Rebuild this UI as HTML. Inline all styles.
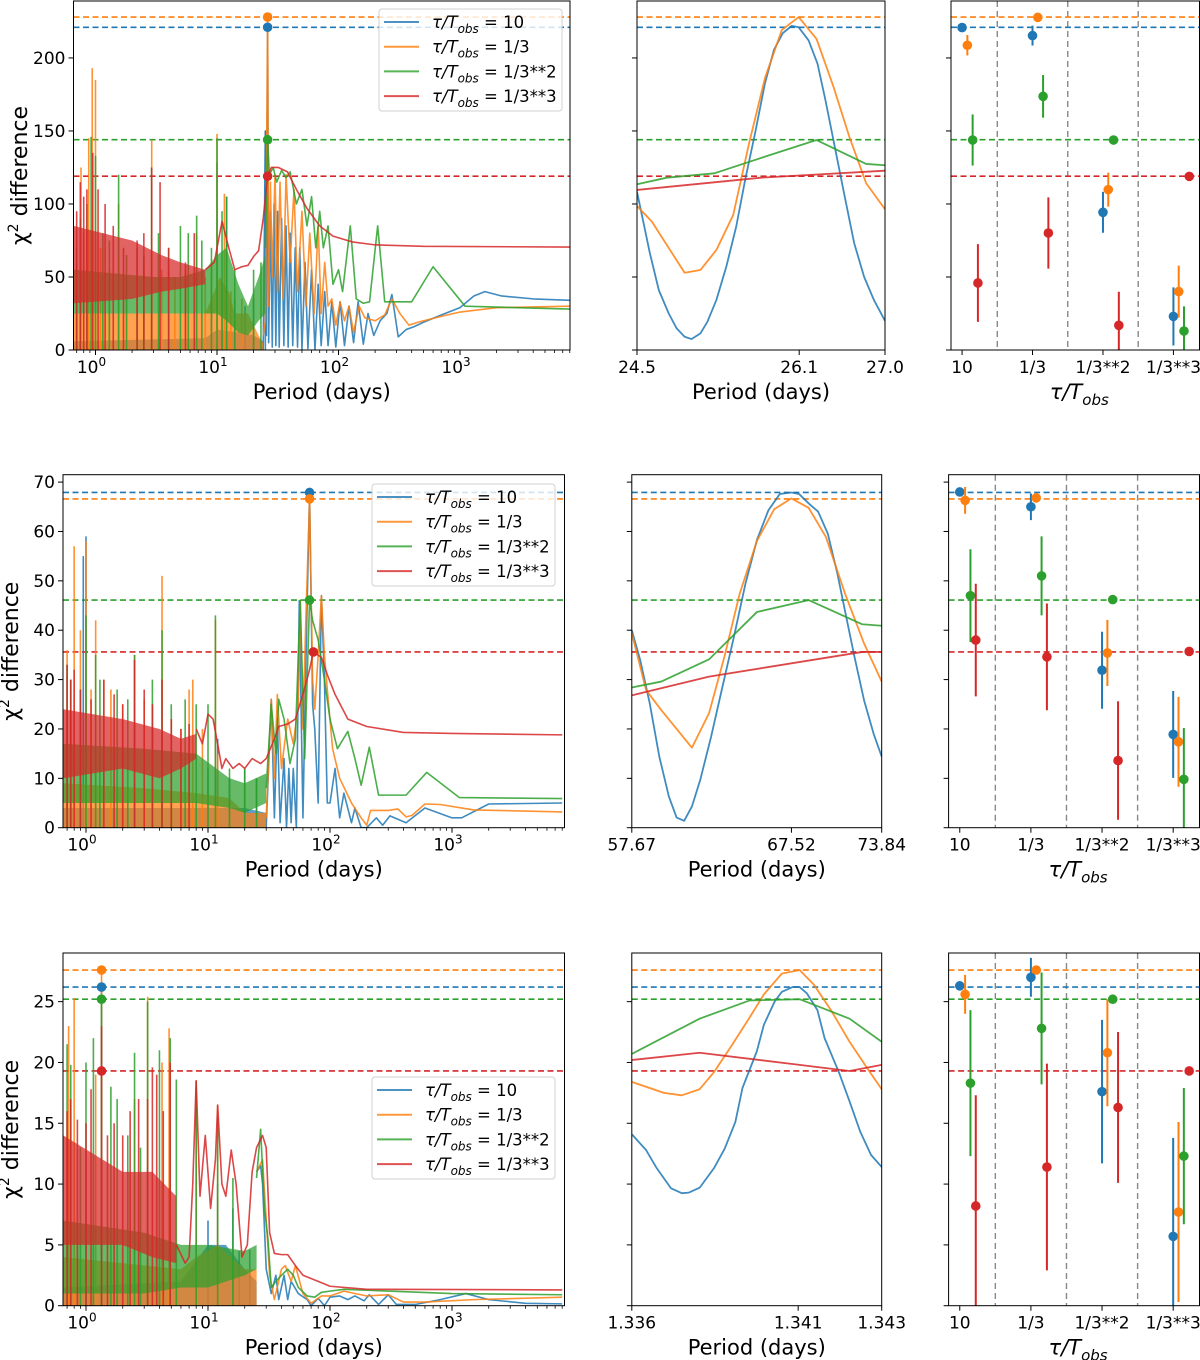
<!DOCTYPE html>
<html><head><meta charset="utf-8"><style>
html,body{margin:0;padding:0;background:#fff;}
svg{display:block;font-family:"DejaVu Sans","Liberation Sans",sans-serif;}
</style></head><body>
<svg id="fig" width="1200" height="1360" viewBox="0 0 1200 1360" xmlns="http://www.w3.org/2000/svg"></svg>
<script>
// ===================== DATA =====================
const seriesNames = ['10', '1/3', '1/3**2', '1/3**3'];
const categories = ['10', '1/3', '1/3**2', '1/3**3'];
const colors = ['#1f77b4', '#ff7f0e', '#2ca02c', '#d62728'];

// ---- Row 1 ----
const r1Peaks = [221, 228, 144, 119];
const r1PeakPeriod = [26.1, 26.1, 26.1, 26.1];
const r1BlueBand = [[0.66,0,6],[8,0,8],[10,0,14],[15,0,12],[20,0,10],[24,0,6]];
const r1OrangeBand = [[0.66,0,25],[8,0,25],[9.5,0,40],[10.5,0,50],[12.5,0,40],[14,0,25],[18,0,25],[22,0,10],[24,0,5]];
const r1GreenBand = [[0.66,25,55],[3,25,50],[5,25,50],[8,25,55],[10,25,65],[12,20,70],[15,12,45],[18,10,30],[22,20,50],[25,25,65]];
const r1RedBand = [[0.66,32,85],[2,35,75],[3.5,40,65],[5,42,60],[8,45,55]];
const r1BlueSpikes = [[10,128],[12,105],[25,150],[9,40],[11,45],[14,35],[17,30],[20,35]];
const r1OrangeSpikes = [[0.76,125],[0.88,145],[0.94,193],[1.0,185],[1.55,100],[2.9,144],[6.8,80],[10,148],[11.5,107],[0.7,60],[0.8,80],[1.1,70],[1.3,55],[1.8,50],[2.2,45],[2.5,60],[3.5,55],[4.5,50],[5.5,55],[8,50],[9,60],[13,40],[16,35]];
const r1GreenSpikes = [[0.92,146],[1.0,133],[1.55,120],[2.9,125],[6.8,92],[10,145],[12,105],[0.7,70],[0.75,90],[0.85,100],[1.15,80],[1.3,75],[1.8,65],[2.2,70],[2.5,65],[3.3,80],[4,70],[5,85],[5.8,80],[7.5,75],[9,70],[11,95],[14,55],[20,55],[23,60]];
const r1RedSpikes = [[0.8,105],[0.95,135],[1.2,100],[2.9,125],[3.4,115],[0.7,95],[0.75,115],[0.85,110],[1.05,110],[1.4,85],[1.7,70],[2.2,75],[2.5,80],[4.0,70],[5.5,60],[6.5,80]];
const r1BlueLine = [[24,0],[25,150],[25.5,10],[26.1,221],[26.6,5],[27.5,95],[28.5,2],[29.5,100],[30.5,3],[31.5,95],[32.5,2],[34,90],[35.5,3],[37,85],[38.5,2],[40,80],[42,3],[44,70],[46,2],[48,70],[50,0],[53,60],[56,1],[60,55],[64,0],[68,45],[72,3],[77,40],[82,3],[88,33],[95,2],[103,33],[112,3],[122,30],[133,5],[145,33],[160,4],[175,25],[195,10],[220,20],[250,25],[275,38],[310,9],[360,14],[420,16],[500,19],[700,24],[1000,29],[1300,37],[1600,40],[2200,37],[4000,35],[8000,34]];
const r1OrangeLine = [[24,10],[25,20],[26.1,228],[26.6,30],[27.5,115],[28.5,50],[30,120],[31.5,40],[33,115],[35,35],[37,120],[40,60],[43,110],[46,40],[50,95],[54,30],[58,80],[63,25],[68,85],[72,25],[77,60],[82,30],[88,35],[95,17],[103,33],[112,20],[122,30],[133,12],[148,30],[165,22],[200,20],[240,24],[275,35],[320,25],[380,17],[450,19],[700,23],[1000,26],[2000,29],[8000,30]];
const r1GreenLine = [[25,70],[26.1,144],[27,120],[29,125],[31,115],[34,123],[37,118],[40,122],[45,100],[50,110],[55,85],[60,105],[65,70],[70,95],[75,70],[82,85],[90,45],[100,55],[108,40],[125,85],[140,35],[160,32],[180,33],[210,85],[240,33],[300,33],[400,33],[600,57],[1100,30],[8000,28]];
const r1RedLine = [[8,55],[9.5,60],[11,88],[12.5,70],[14,55],[16,57],[18,58],[20,64],[22,68],[24,90],[26.1,119],[28,125],[32,125],[38,122],[45,110],[55,97],[70,85],[90,78],[130,74],[200,72],[500,71],[8000,70.5]];
const r1ZoomBlue = [[24.5,108.4],[24.63,66.2],[24.72,41],[24.82,25],[24.9,14.8],[24.98,9.1],[25.05,7.5],[25.14,11.4],[25.21,19.4],[25.3,34.2],[25.4,57],[25.5,84.5],[25.59,116.4],[25.69,148.4],[25.79,182.6],[25.88,205.5],[25.97,217],[26.06,222],[26.13,221],[26.23,212],[26.32,196],[26.4,171],[26.5,137],[26.6,103],[26.69,73],[26.79,50],[26.89,34],[27.0,20]];
const r1ZoomOrange = [[24.5,98.6],[24.65,87.9],[24.98,52.9],[25.14,54.8],[25.3,68.5],[25.47,92.5],[25.63,141.6],[25.79,186.2],[25.96,219.2],[26.13,228],[26.31,213],[26.48,180.4],[26.64,146.1],[26.81,114.2],[27.0,96.4]];
const r1ZoomGreen = [[24.5,113.5],[24.8,118],[25.28,121],[25.79,132.4],[26.31,143.8],[26.81,127.4],[27.0,126.5]];
const r1ZoomRed = [[24.5,109.6],[25.75,118],[27.0,122.8]];
const r1Vals = [[220.8,215.3,94.3,23],[208.7,227.8,109.8,40],[143.8,173.7,143.8,13],[45.9,80.1,16.9,118.9]];
const r1Errs = [[0,6.8,14,19.9],[7,0,11.6,17.8],[17.5,14.6,0,16.9],[26.6,24.4,23,0]];

// ---- Row 2 ----
const r2Peaks = [67.9, 66.6, 46.1, 35.6];
const r2PeakPeriod = [68, 68, 68, 73];
const r2BlueBand = [[0.65,0,4],[20,0,4],[30,0,3]];
const r2OrangeBand = [[0.65,0,9],[3,0,8],[8,0,7],[15,0,6],[20,0,3],[30,0,3]];
const r2GreenBand = [[0.65,5,17],[3,5,16],[8,5,15],[15,4,10],[20,3,9],[30,5,11]];
const r2RedBand = [[0.65,10,24],[2,12,22],[4,10,20],[6,12,18],[8,14,19]];
const r2BlueSpikes = [[0.95,55],[1.0,59],[10,12],[12,18],[15,10],[20,12],[25,10]];
const r2OrangeSpikes = [[0.8,57],[0.9,40],[1.0,58],[1.2,42],[2.5,35],[4.2,51],[7.5,30],[11.5,42],[0.7,36],[0.75,30],[1.1,28],[1.4,30],[1.6,28],[2,25],[3,26],[3.5,25],[5,22],[6,20],[7,28],[9,20],[12,15]];
const r2GreenSpikes = [[0.7,33],[1.0,43],[1.2,35],[2.5,35],[4.2,40],[11.5,43],[0.75,30],[0.9,28],[1.3,30],[1.8,28],[2.2,26],[3.5,30],[5,25],[6.5,26],[8,25],[10,25],[15,12],[20,12],[25,10]];
const r2RedSpikes = [[0.7,33],[0.8,32],[2.5,34],[4.2,30],[0.75,30],[0.9,28],[1.1,26],[1.4,30],[1.7,27],[2,25],[3,28],[3.5,25],[5,22],[6,20],[7,21]];
const r2BlueLine = [[30,0],[33,26],[35,2],[37,22],[39,1],[42,14],[44,0],[46,12],[48,1],[50,12],[53,0],[56,46],[60,2],[63,30],[68,67.9],[72,25],[75,20],[80,5],[85,47],[90,30],[95,5],[100,5],[110,12],[120,2],[130,7],[150,1],[160,4],[180,0],[200,0],[240,2],[270,0.5],[310,2.4],[420,1],[600,4],[1000,2],[1200,2],[2000,4.8],[8000,5]];
const r2OrangeLine = [[30,2],[33,26],[35,10],[37,27],[40,12],[45,22],[50,17],[55,25],[57,46],[60,20],[63,40],[68,66.6],[72,30],[75,24],[80,35],[85,47],[90,35],[95,28],[105,16],[120,10],[150,5],[180,2],[200,0.5],[215,3.5],[300,3.5],[360,3.8],[420,2.2],[470,2.5],[600,4.8],[800,4.7],[1500,3.6],[8000,3.2]];
const r2GreenLine = [[30,8],[33,25],[36,15],[38,26],[42,22],[47,13],[52,18],[57,46],[62,14],[68,46],[72,42],[80,38],[90,30],[100,22],[115,16],[140,19.5],[160,14],[180,8.6],[210,16.3],[250,6.6],[420,6.6],[620,11.2],[1150,6.1],[8000,5.9]];
const r2RedLine = [[8,20],[9,17],[10,23],[11,22],[12,17],[13,12],[14,14],[16,12],[18,13],[20,12],[23,14],[27,13],[30,14],[35,18],[38,20.5],[45,21],[52,22],[60,27],[68,32],[73,35.6],[85,34.5],[95,31],[110,27],[140,22],[200,20.5],[400,19.3],[1000,19.1],[8000,18.8]];
const r2ZoomBlue = [[57.67,40],[58.21,34],[58.83,25.2],[59.45,14.4],[60.07,6.3],[60.57,2.05],[61.06,1.4],[61.56,4.3],[62.1,9.7],[62.8,18.4],[63.54,28.6],[64.28,38.7],[65.03,49.5],[65.77,58.3],[66.51,64.3],[67.25,67.6],[68.0,67.9],[68.49,67.6],[69.11,65.7],[69.73,64],[70.35,59.6],[70.97,51.5],[71.59,42],[72.08,34.6],[72.7,25.8],[73.32,19],[73.84,14.4]];
const r2ZoomOrange = [[57.67,39.4],[58.59,27.9],[59.58,23.8],[61.56,16.2],[62.67,23.2],[63.66,34.6],[64.65,47.4],[65.77,58.1],[66.88,64.5],[68.0,66.7],[69.11,64.8],[70.23,58.9],[71.47,47.4],[72.7,37.3],[73.84,29.6]];
const r2ZoomGreen = [[57.67,28.4],[59.58,29.6],[62.67,34.1],[65.77,43.7],[69.11,46.1],[72.58,41.2],[73.84,40.9]];
const r2ZoomRed = [[57.67,26.8],[62.67,30.6],[72.58,35.6],[73.84,35.6]];
const r2Vals = [[68.0,65.0,31.9,18.9],[66.3,66.8,35.4,17.4],[47.0,51.0,46.2,9.8],[38.0,34.6,13.6,35.7]];
const r2Errs = [[0,2.7,7.8,8.8],[2.7,0,6.7,9.1],[9.4,8,0,10.4],[11.4,10.8,12,0]];

// ---- Row 3 ----
const r3Peaks = [26.2, 27.6, 25.2, 19.3];
const r3PeakPeriod = [1.341, 1.341, 1.341, 1.341];
const r3BlueBand = [[0.65,0,1.5],[6,0,2],[10,0,5],[14,0,5],[20,0,3],[25,0,2]];
const r3OrangeBand = [[0.65,0,4],[6,0,3],[8,0,4],[12,0,5],[20,0,3],[25,0,3]];
const r3GreenBand = [[0.65,1,7],[3,1,6],[6,1.5,5],[10,1.5,5],[20,2.5,4.5],[25,3,5]];
const r3RedBand = [[0.65,5,14],[2,5,11],[3.5,4,11],[5.5,3.5,9]];
const r3BlueSpikes = [[10,7],[12,10],[1.341,26.2],[16,8],[18,4.5],[22,4.6]];
const r3OrangeSpikes = [[0.72,23],[0.8,25.3],[1.2,19],[2.5,17],[3.2,25.4],[4.2,20],[4.8,22.8],[8,18],[12,16.5],[1.341,27.6]];
const r3GreenSpikes = [[0.7,21.5],[0.75,19.8],[1.15,22],[1.6,18],[2.5,20.8],[3.2,25],[4.0,21],[4.9,22],[5.5,18.6],[8,18.5],[12,15.5],[16,10.5],[1.341,25.2],[0.9,13],[1.0,20],[1.8,17],[2.2,14],[2.8,13]];
const r3RedSpikes = [[0.75,17],[0.85,15.3],[1.1,17.8],[3.2,17],[3.8,19],[4.9,20],[1.341,23],[0.7,16],[1.0,15],[1.5,14],[1.7,15],[2.0,14],[2.3,16],[2.7,17],[3.5,19.6],[4.3,16]];
const r3BlueLine = [[25,11],[27,11.5],[28,10],[30,3],[33,1],[36,2.5],[38,0.5],[42,2.5],[45,0.5],[48,2],[55,1],[65,0.5],[70,0],[80,0.6],[90,0],[100,0.7],[120,0.8],[140,0.5],[160,0.8],[190,0.4],[210,0.9],[250,0.1],[300,0.9],[350,0.1],[500,0.1],[800,0.5],[1300,1.0],[2000,0.5],[4000,0.2],[8000,0.15]];
const r3OrangeLine = [[25,11],[28,12],[32,2.5],[35,0.5],[40,3],[43,3.3],[48,2],[52,3.3],[60,1],[70,0.2],[85,0.8],[100,0.8],[130,1.2],[200,0.8],[300,0.9],[400,0.3],[600,0.3],[1500,0.5],[8000,0.7]];
const r3GreenLine = [[25,10.5],[27,14.5],[29,8],[31,5.5],[33,1.5],[36,2],[40,2.5],[45,3],[50,2.5],[55,1.5],[65,0.8],[75,0.7],[85,1.1],[100,1.2],[130,1.35],[300,1.2],[1000,1.0],[8000,0.9]];
const r3RedLine = [[5.5,5],[6.5,3.5],[7,4],[7.5,10],[8,18.5],[8.6,9],[9.5,14],[10.5,8],[11.5,12],[12,16.5],[13,10],[14,9],[15.5,12.8],[17,10],[19,4],[21,5],[23,11],[25,13],[28,14],[30,13],[32,6],[35,4.3],[40,4.2],[45,4.2],[52,3.3],[60,2.5],[80,2],[100,1.6],[200,1.35],[8000,1.3]];
const r3ZoomBlue = [[1.336,14.1],[1.3364,12.8],[1.3367,11.3],[1.3371,9.65],[1.3374,9.25],[1.3376,9.3],[1.3379,9.7],[1.3381,10.5],[1.3383,11.3],[1.3386,12.9],[1.3389,15.1],[1.3391,17.9],[1.3395,20.9],[1.3397,23.1],[1.34,25.0],[1.3402,25.8],[1.3405,26.2],[1.3407,26.2],[1.3409,25.7],[1.3412,24.3],[1.3414,22.0],[1.3418,19.2],[1.3421,16.8],[1.3424,14.3],[1.3427,12.4],[1.343,11.4]];
const r3ZoomOrange = [[1.336,18.4],[1.3369,17.5],[1.3374,17.3],[1.3379,17.8],[1.3383,19.2],[1.3388,21.4],[1.3393,23.7],[1.3397,25.6],[1.3402,27.3],[1.3407,27.6],[1.3411,26.4],[1.3416,24.2],[1.3421,21.7],[1.3426,19.5],[1.343,17.8]];
const r3ZoomGreen = [[1.336,20.7],[1.3379,23.6],[1.3393,25.1],[1.3407,25.2],[1.3421,23.6],[1.343,21.7]];
const r3ZoomRed = [[1.336,20.2],[1.3379,20.8],[1.3407,19.8],[1.3421,19.3],[1.343,19.8]];
const r3Vals = [[26.3,27.0,17.6,5.7],[25.6,27.6,20.8,7.7],[18.3,22.8,25.2,12.3],[8.2,11.4,16.3,19.3]];
const r3Errs = [[0,1.6,5.9,8.1],[1.6,0,4.4,7.4],[6,4.6,0,5.6],[9.1,8.5,6.2,0]];

// tick arrays
const r1YTicks = [0,50,100,150,200];
const r2YTicks = [0,10,20,30,40,50,60,70];
const r3YTicks = [0,5,10,15,20,25];
const logTickExps = [0,1,2,3];
const r1ZoomTicks = [24.5, 26.135, 27.0];
const r1ZoomLabels = ['24.5','26.1','27.0'];
const r2ZoomTicks = [57.67, 68.0, 73.84];
const r2ZoomLabels = ['57.67','67.52','73.84'];
const r3ZoomTicks = [1.336, 1.34066, 1.343];
const r3ZoomLabels = ['1.336','1.341','1.343'];

// ===================== DRAWING =====================
const NS='http://www.w3.org/2000/svg';
const svg=document.getElementById('fig');
function mk(tag, attrs, parent){
  const e=document.createElementNS(NS,tag);
  for(const k in attrs) e.setAttribute(k,attrs[k]);
  (parent||svg).appendChild(e);
  return e;
}
let clipId=0;
function makeClip(x0,y0,x1,y1){
  const id='clip'+(clipId++);
  const cp=mk('clipPath',{id:id});
  mk('rect',{x:x0,y:y0,width:x1-x0,height:y1-y0},cp);
  return id;
}

function drawFrame(g,x0,y0,x1,y1){
  const r=mk('rect',{x:x0,y:y0,width:x1-x0,height:y1-y0,fill:'none',stroke:'#000','stroke-width':1},g);
  
  
}

function yAxis(g,yScale,x0,ticks,withLabels){
  ticks.forEach(t=>{
    const y=yScale(t);
    const l=mk('line',{x1:x0-5,x2:x0,y1:y,y2:y,stroke:'#000','stroke-width':1},g);
    
    
    if(withLabels){
      const tx=mk('text',{x:x0-8,y:y+6,'font-size':17,'text-anchor':'end',fill:'#000'},g);
      tx.textContent=String(t);
      
      
    }
  });
}

function series(g,xs,ys,pts,color,sw,op){
  const d=pts.map((p,i)=>(i?'L':'M')+xs(p[0]).toFixed(2)+','+ys(p[1]).toFixed(2)).join(' ');
  const p=mk('path',{d:d,fill:'none',stroke:color,'stroke-width':sw,'stroke-opacity':op,'stroke-linejoin':'round'},g);
  return p;
}

function hDashes(g,ys,x0,x1,peaks){
  peaks.forEach((v,i)=>{
    const l=mk('line',{x1:x0,x2:x1,y1:ys(v),y2:ys(v),stroke:colors[i],'stroke-width':1.6,'stroke-dasharray':'6,3.5'},g);
    
    
  });
}

function legend(g,x,y){
  const box=mk('rect',{x:x,y:y,width:183,height:102,rx:3,fill:'#fff','fill-opacity':0.8,stroke:'#d0d0d0','stroke-width':1},g);
  
  
  seriesNames.forEach((n,i)=>{
    const cy=y+13+i*24.7;
    const l=mk('line',{x1:x+5,x2:x+40,y1:cy,y2:cy,stroke:colors[i],'stroke-width':2,'stroke-opacity':0.8},g);
    
    
    const t=mk('text',{x:x+53,y:cy+6,'font-size':16.5,fill:'#000'},g);
    
    
    t.innerHTML='<tspan font-style="italic">τ/T</tspan><tspan font-style="italic" font-size="12" dy="5">obs</tspan><tspan dy="-5"> =  '+n+'</tspan>';
  });
}

function leftPanel(row){
  const {x0,x1,y0,y1,ymax,yticks,peaks,peakP,bands,spikes,lines,leg,logMin,logMax,ylabX}=row;
  const g=mk('g',{});
  
  
  const xs=p=>x0+(Math.log10(p)-logMin)/(logMax-logMin)*(x1-x0);
  const ys=v=>y1-v/ymax*(y1-y0);
  const cid=makeClip(x0,y0,x1,y1);
  const pg=mk('g',{'clip-path':'url(#'+cid+')'},g);
  hDashes(pg,ys,x0,x1,peaks);
  for(let s=0;s<4;s++){
    const b=bands[s];
    const top=b.map(q=>xs(q[0]).toFixed(1)+','+ys(q[2]).toFixed(1));
    const bot=b.slice().reverse().map(q=>xs(q[0]).toFixed(1)+','+ys(q[1]).toFixed(1));
    const poly=mk('polygon',{points:top.concat(bot).join(' '),fill:colors[s],'fill-opacity':0.72},pg);
    
    
    spikes[s].forEach(sp=>{
      const l=mk('line',{x1:xs(sp[0]),x2:xs(sp[0]),y1:ys(sp[1]),y2:ys(0),stroke:colors[s],'stroke-width':1.6,'stroke-opacity':0.85},pg);
      
      
    });
    const ln=series(pg,xs,ys,lines[s],colors[s],1.6,0.85);
    
    
  }
  peaks.forEach((v,i)=>{
    const c=mk('circle',{cx:xs(peakP[i]),cy:ys(v),r:4.8,fill:colors[i]},g);
    
    
  });
  drawFrame(g,x0,y0,x1,y1);
  yAxis(g,ys,x0,yticks,true);
  logTickExps.forEach(e=>{
    const x=xs(Math.pow(10,e));
    const l=mk('line',{x1:x,x2:x,y1:y1,y2:y1+5,stroke:'#000'},g);
    
    
    const t=mk('text',{x:x-4,y:y1+23,'font-size':17,'text-anchor':'middle'},g);
    
    
    t.innerHTML='10<tspan font-size="12" dy="-7">'+e+'</tspan>';
  });
  for(let e=-1;e<=3;e++){for(let k=2;k<=9;k++){
    const lv=Math.log10(k)+e;
    if(lv<logMin||lv>logMax) continue;
    const x=xs(Math.pow(10,lv));
    const l=mk('line',{x1:x,x2:x,y1:y1,y2:y1+3,stroke:'#000','stroke-width':0.8},g);
    
    
  }}
  const xl=mk('text',{x:(x0+x1)/2,y:y1+49,'font-size':21,'text-anchor':'middle'},g);
  xl.textContent='Period (days)';
  
  
  const yc=(y0+y1)/2;
  const yl=mk('text',{x:ylabX,y:yc,'font-size':22,'text-anchor':'middle',transform:'rotate(-90 '+ylabX+' '+yc+')'},g);
  yl.innerHTML='χ<tspan font-size="14" dy="-9">2</tspan><tspan dy="9"> difference</tspan>';
  
  
  legend(g,leg[0],leg[1]);
}

function midPanel(row){
  const {x0,x1,y0,y1,ymax,yticks,peaks,zlines,dom,zt,zl}=row;
  const g=mk('g',{});
  
  
  const xs=p=>x0+(p-dom[0])/(dom[1]-dom[0])*(x1-x0);
  const ys=v=>y1-v/ymax*(y1-y0);
  const cid=makeClip(x0,y0,x1,y1);
  const pg=mk('g',{'clip-path':'url(#'+cid+')'},g);
  hDashes(pg,ys,x0,x1,peaks);
  zlines.forEach((pts,s)=>{
    const ln=series(pg,xs,ys,pts,colors[s],1.8,0.85);
    
    
  });
  drawFrame(g,x0,y0,x1,y1);
  yAxis(g,ys,x0,yticks,false);
  zt.forEach((t,i)=>{
    const x=xs(t);
    const l=mk('line',{x1:x,x2:x,y1:y1,y2:y1+5,stroke:'#000'},g);
    
    
    const tx=mk('text',{x:x,y:y1+23,'font-size':17,'text-anchor':'middle'},g);
    tx.textContent=zl[i];
    
    
  });
  const xl=mk('text',{x:(x0+x1)/2,y:y1+49,'font-size':21,'text-anchor':'middle'},g);
  xl.textContent='Period (days)';
  
  
}

function rightPanel(row){
  const {x0,x1,y0,y1,ymax,yticks,peaks,vals,errs}=row;
  const g=mk('g',{});
  
  
  const dom=[-0.157,3.37];
  const xs=c=>x0+(c-dom[0])/(dom[1]-dom[0])*(x1-x0);
  const ys=v=>y1-v/ymax*(y1-y0);
  const cid=makeClip(x0,y0,x1,y1);
  const pg=mk('g',{'clip-path':'url(#'+cid+')'},g);
  [0.5,1.5,2.5].forEach(c=>{
    const l=mk('line',{x1:xs(c),x2:xs(c),y1:y0,y2:y1,stroke:'#888','stroke-width':1.4,'stroke-dasharray':'6,4'},pg);
    
    
  });
  hDashes(pg,ys,x0,x1,peaks);
  const offs=[0,0.075,0.15,0.225];
  vals.forEach((arr,s)=>{
    arr.forEach((v,c)=>{
      const x=xs(c+offs[s]);
      const e=errs[s][c];
      if(e>0){
        const l=mk('line',{x1:x,x2:x,y1:ys(v+e),y2:ys(Math.max(v-e,-5)),stroke:colors[s],'stroke-width':2},pg);
        
        
      }
      const d=mk('circle',{cx:x,cy:ys(v),r:4.8,fill:colors[s]},pg);
      
      
    });
  });
  drawFrame(g,x0,y0,x1,y1);
  yAxis(g,ys,x0,yticks,false);
  categories.forEach((c,i)=>{
    const x=xs(i);
    const l=mk('line',{x1:x,x2:x,y1:y1,y2:y1+5,stroke:'#000'},g);
    
    
    const tx=mk('text',{x:x,y:y1+23,'font-size':17,'text-anchor':'middle'},g);
    tx.textContent=c;
    
    
  });
  const xl=mk('text',{x:(x0+x1)/2+4,y:y1+49,'font-size':21,'text-anchor':'middle'},g);
  xl.innerHTML='<tspan font-style="italic">τ/T</tspan><tspan font-style="italic" font-size="15" dy="6">obs</tspan>';
  
  
}

const rows=[
 {y0:1,y1:350,ymax:239,yticks:r1YTicks,peaks:r1Peaks,peakP:r1PeakPeriod,
  bands:[r1BlueBand,r1OrangeBand,r1GreenBand,r1RedBand],spikes:[r1BlueSpikes,r1OrangeSpikes,r1GreenSpikes,r1RedSpikes],
  lines:[r1BlueLine,r1OrangeLine,r1GreenLine,r1RedLine],zlines:[r1ZoomBlue,r1ZoomOrange,r1ZoomGreen,r1ZoomRed],
  vals:r1Vals,errs:r1Errs,dom:[24.5,27.0],zt:r1ZoomTicks,zl:r1ZoomLabels,
  L:[73.5,570],M:[637,885],R:[951,1200],leg:[379,9],logMin:-0.181,logMax:3.905,ylabX:27},
 {y0:474.7,y1:827.7,ymax:71.5,yticks:r2YTicks,peaks:r2Peaks,peakP:r2PeakPeriod,
  bands:[r2BlueBand,r2OrangeBand,r2GreenBand,r2RedBand],spikes:[r2BlueSpikes,r2OrangeSpikes,r2GreenSpikes,r2RedSpikes],
  lines:[r2BlueLine,r2OrangeLine,r2GreenLine,r2RedLine],zlines:[r2ZoomBlue,r2ZoomOrange,r2ZoomGreen,r2ZoomRed],
  vals:r2Vals,errs:r2Errs,dom:[57.67,73.84],zt:r2ZoomTicks,zl:r2ZoomLabels,
  L:[63,564.5],M:[631.8,881.7],R:[948.6,1200],leg:[372,484],logMin:-0.1885,logMax:3.922,ylabX:18},
 {y0:953,y1:1305.7,ymax:29.0,yticks:r3YTicks,peaks:r3Peaks,peakP:r3PeakPeriod,
  bands:[r3BlueBand,r3OrangeBand,r3GreenBand,r3RedBand],spikes:[r3BlueSpikes,r3OrangeSpikes,r3GreenSpikes,r3RedSpikes],
  lines:[r3BlueLine,r3OrangeLine,r3GreenLine,r3RedLine],zlines:[r3ZoomBlue,r3ZoomOrange,r3ZoomGreen,r3ZoomRed],
  vals:r3Vals,errs:r3Errs,dom:[1.336,1.343],zt:r3ZoomTicks,zl:r3ZoomLabels,
  L:[63,564.5],M:[631.8,881.7],R:[948.6,1200],leg:[372,1077],logMin:-0.1885,logMax:3.922,ylabX:18}
];
rows.forEach(r=>{
  leftPanel(Object.assign({},r,{x0:r.L[0],x1:r.L[1]}));
  midPanel(Object.assign({},r,{x0:r.M[0],x1:r.M[1]}));
  rightPanel(Object.assign({},r,{x0:r.R[0],x1:r.R[1]-0.5}));
});
</script>
</body></html>
